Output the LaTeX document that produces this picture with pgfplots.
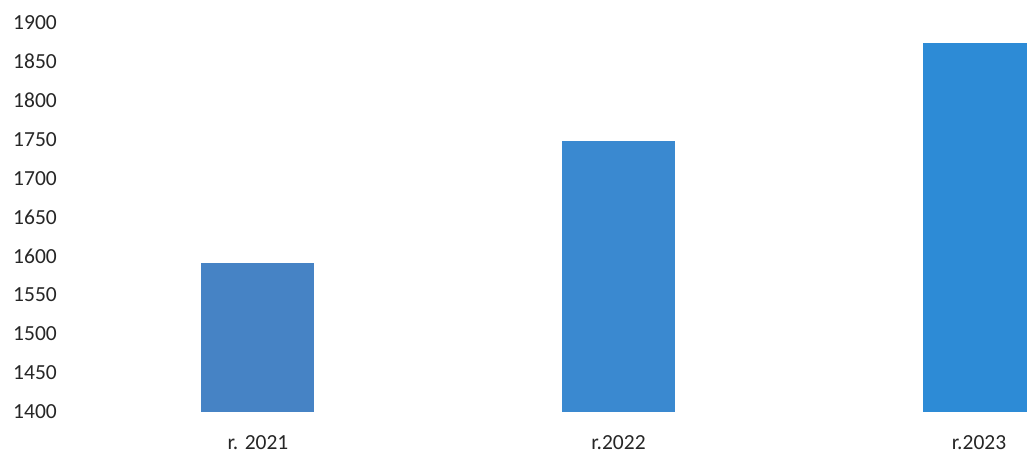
\documentclass[border=0pt]{standalone}
\usepackage{pgfplots}
\pgfplotsset{compat=1.18}
\usepackage{fontspec}
\setmainfont{Carlito}
\definecolor{barA}{HTML}{4683C5}
\definecolor{barB}{HTML}{3A89D0}
\definecolor{barC}{HTML}{2D8BD6}
\begin{document}
\begin{tikzpicture}
\useasboundingbox (0,0) rectangle (1027bp,454bp);
\begin{axis}[
  at={(60bp,42.3bp)}, anchor=south west,
  scale only axis, width=967bp, height=389bp,
  xmin=-0.549, xmax=2.133, ymin=1400, ymax=1900,
  ytick={1400,1450,...,1900},
  xtick={0,1,2}, xticklabels={r. 2021, r.2022, r.2023},
  axis line style={draw=none}, major tick length=0pt,
  /pgf/number format/1000 sep={},
  /pgf/number format/assume math mode=true,
  tick label style={font=\fontsize{21.5bp}{25bp}\selectfont, text=black!85},
  yticklabel style={anchor=east, inner sep=0pt, xshift=-3bp},
  xticklabel style={anchor=base, inner sep=0pt, yshift=-38bp},
  ybar, bar width=113bp, clip=true,
]
\addplot[fill=barA, draw=none, bar shift=0pt] coordinates {(0,1591)};
\addplot[fill=barB, draw=none, bar shift=0pt] coordinates {(1,1748)};
\addplot[fill=barC, draw=none, bar shift=0pt] coordinates {(2,1874)};
\end{axis}
\end{tikzpicture}
\end{document}
